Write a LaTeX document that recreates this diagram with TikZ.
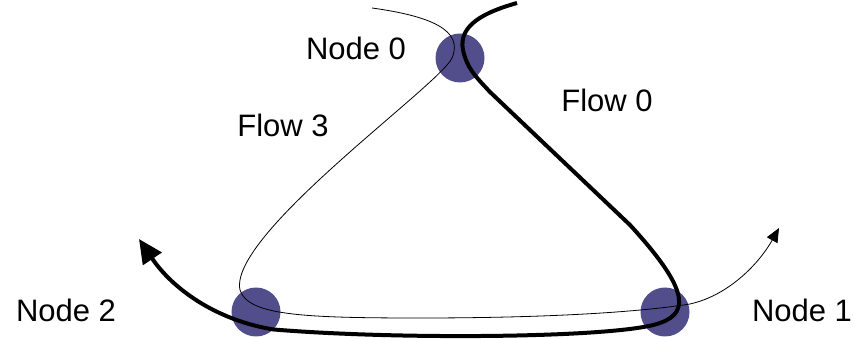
\documentclass[tikz,border=0pt]{standalone}
\usepackage{fontspec}
\setmainfont{Liberation Sans}
\usepackage{xcolor}
\usetikzlibrary{arrows.meta}
\definecolor{nodeblue}{HTML}{524E8C}

\begin{document}
\begin{tikzpicture}[
  x=1pt, y=-1pt,
  router/.style={circle, fill=nodeblue, minimum size=49pt, inner sep=0pt},
  lbl/.style={inner sep=0pt, font=\fontsize{31}{34}\selectfont},
  thinflow/.style={line width=0.8pt, -{Triangle[length=14pt, width=12pt]}},
  thickflow/.style={line width=4pt, -{Triangle[length=24pt, width=22pt]}}
]
\useasboundingbox (0,0) rectangle (855,339);

% ROUTERS
\node[router] (n0) at (460,58) {};
\node[router] (n2) at (256,312) {};
\node[router] (n1) at (665,312) {};

\node[lbl] (l0) at (356,48) {Node 0};
\node[lbl] (l2) at (66,310) {Node 2};
\node[lbl] (l1) at (802,310) {Node 1};
\node[lbl] (f3) at (283,125) {Flow 3};
\node[lbl] (f0) at (607,100) {Flow 0};

% FLOW 3 (thin)
\coordinate (s3) at (372,8);
\coordinate (e3) at (779,228);
\draw[thinflow] (s3) .. controls (430,16) and (464,30) .. ([xshift=-8pt]n0.center)
  .. controls (440,85) and (228,235) .. (240,290)
  .. controls (248,315) and (300,318) .. (420,318)
  .. controls (550,318) and (640,312) .. (690,304)
  .. controls (730,295) and (760,262) .. (e3);

% FLOW 0 (thick)
\coordinate (s0) at (517,3);
\coordinate (e0) at (139,239);
\draw[thickflow] (s0) .. controls (485,12) and (458,25) .. ([xshift=3pt,yshift=8pt]n0.center)
  .. controls (467,68) and (475,76) .. (490,92) -- (630,225)
  .. controls (685,285) and (692,312) .. (660,323)
  .. controls (620,338) and (400,340) .. (n2.south east)
  .. controls (215,320) and (172,288) .. (e0);

\end{tikzpicture}
\end{document}
